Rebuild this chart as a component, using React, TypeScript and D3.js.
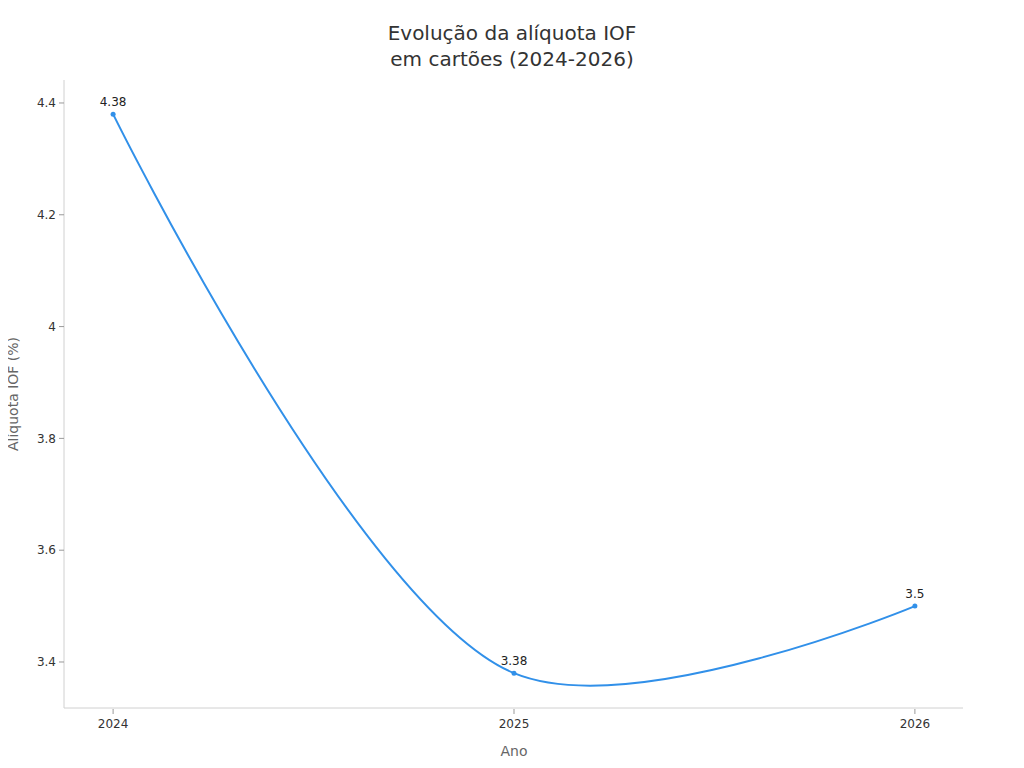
import React from 'react';
import * as d3 from 'd3';

const years = ['2024', '2025', '2026'];
const rates = [4.38, 3.38, 3.5];
const yTicks = [3.4, 3.6, 3.8, 4.0, 4.2, 4.4];

const W = 1024;
const H = 768;
const FONT = '"DejaVu Sans", sans-serif';
const LINE = '#3190e9';

const App: React.FC = () => {
  const x = d3.scalePoint<string>().domain(years).range([64, 964]).padding(0.1225);
  const y = d3.scaleLinear().domain([3.3177, 4.4411]).range([708, 80]);

  const pts = years.map((yr, i) => ({ yr, v: rates[i] }));
  const line = d3
    .line<{ yr: string; v: number }>()
    .x((d) => x(d.yr) ?? 0)
    .y((d) => y(d.v))
    .curve(d3.curveCatmullRom.alpha(0.5));

  const fmt = (v: number) => String(+v.toFixed(2));

  return (
    <svg width={W} height={H} style={{ display: 'block', margin: -8 }} fontFamily={FONT}>
      <rect width={W} height={H} fill="#fff" />

      {/* title */}
      <text x={512} y={40} textAnchor="middle" fontSize={20} fill="#333">
        Evolução da alíquota IOF
      </text>
      <text x={512} y={66} textAnchor="middle" fontSize={20} fill="#333">
        em cartões (2024-2026)
      </text>

      {/* axes */}
      <line x1={64} x2={64} y1={80} y2={708} stroke="#d0d0d0" />
      <line x1={64} x2={963} y1={708} y2={708} stroke="#d0d0d0" />

      {yTicks.map((t) => (
        <g key={t} transform={`translate(0,${y(t)})`}>
          <line x1={59} x2={64} stroke="#999" />
          <text x={56} dy="0.35em" textAnchor="end" fontSize={12} fill="#333">
            {fmt(t)}
          </text>
        </g>
      ))}

      {years.map((yr) => (
        <g key={yr} transform={`translate(${x(yr)},0)`}>
          <line y1={709} y2={714} stroke="#999" />
          <text y={728} textAnchor="middle" fontSize={12} fill="#333">
            {yr}
          </text>
        </g>
      ))}

      <text x={514} y={756} textAnchor="middle" fontSize={14} fill="#666">
        Ano
      </text>
      <text
        transform={`translate(18,${(80 + 708) / 2}) rotate(-90)`}
        textAnchor="middle"
        fontSize={14}
        fill="#666"
      >
        Alíquota IOF (%)
      </text>

      {/* series */}
      <path d={line(pts) ?? ''} fill="none" stroke={LINE} strokeWidth={2} />
      {pts.map((d) => (
        <g key={d.yr}>
          <circle cx={x(d.yr)} cy={y(d.v)} r={2.5} fill={LINE} />
          <text x={x(d.yr)} y={y(d.v) - 8} textAnchor="middle" fontSize={12} fill="#222">
            {fmt(d.v)}
          </text>
        </g>
      ))}
    </svg>
  );
};

export default App;
